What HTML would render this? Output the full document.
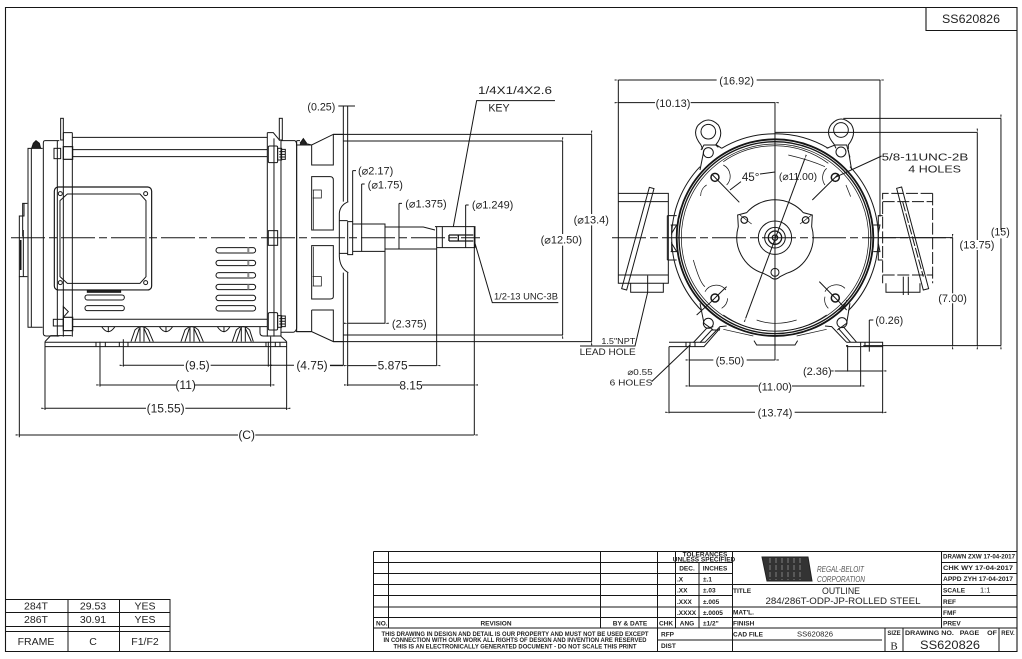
<!DOCTYPE html>
<html><head><meta charset="utf-8"><style>
html,body{margin:0;padding:0;background:#fff;width:1022px;height:659px;overflow:hidden}
svg{display:block}
path,rect,circle,line,polygon,ellipse{fill:none;stroke:#161616;stroke-width:3}
text{font-family:"Liberation Sans",sans-serif;fill:#222;stroke:none;font-size:36px}
.d{marker-start:url(#a);marker-end:url(#a)}
.k{fill:#222}
.t{stroke-width:2.200}
.th{stroke-width:5}
.p text,text.p{font-size:7px;font-weight:bold}
.p path,.p rect{stroke-width:1}
</style></head><body>
<svg width="1022" height="659" viewBox="0 0 1022 659" xmlns="http://www.w3.org/2000/svg">
<defs><marker id="a" markerUnits="userSpaceOnUse" markerWidth="14" markerHeight="8" refX="1" refY="4" orient="auto-start-reverse"><path d="M0 4L12 2V6Z" style="fill:#1c1c1c;stroke:none"/></marker></defs>
<rect x="0" y="0" width="1022" height="659" style="fill:#fff;stroke:none"/>

<!-- frame -->
<path d="M5.500 7.500H1017V651.500H5.500Z" style="stroke-width:1.100"/>
<path d="M926 7.500V30.500H1017" style="stroke-width:1.100"/>
<text x="971" y="23" text-anchor="middle" style="font-size:11.500px" textLength="58" lengthAdjust="spacingAndGlyphs">SS620826</text>

<!-- centerlines -->
<path d="M11 237.700H480" style="stroke-width:1;stroke-dasharray:34 4 8 4"/>
<path d="M612 237.700H952" style="stroke-width:1;stroke-dasharray:34 4 8 4"/>

<!-- LEFT VIEW -->
<g transform="matrix(.3333 0 0 .3333 0 80)">
<path d="M217 172H802M217 209H802M217 230H802M217 718H802M217 740H802"/>
<path d="M217 158V770M802 158V770M822 175V770M190 158V770M172 182V770M843 180V770"/>
<path d="M190 158H217M802 158H820L840 182"/>
<rect x="182" y="115" width="8" height="65"/><rect x="838" y="115" width="9" height="65"/>
<path d="M178 182H135Q130 182 130 190V760Q130 768 138 768H178"/>
<path d="M128 205H84V742H128M94 205V742"/>
<path d="M95 205L100 190L108 182L118 190L122 205" class="k"/>
<path d="M82 370H68V470M82 590H58V408H72V370M70 450V590"/>
<path d="M62 480V570" class="th"/>
<path d="M843 182H885Q890 185 890 195V745Q888 755 880 757H843M888 195H933M888 755H933"/>
<path d="M900 195L910 178L920 195" class="k"/>
<!-- junction box -->
<rect x="163" y="321" width="292" height="309" rx="12" style="stroke-width:3.500"/>
<path d="M180 362L202 342H420L438 362V590L420 610H202L180 590Z"/>
<circle cx="181" cy="341" r="6"/><circle cx="437" cy="341" r="6"/><circle cx="181" cy="608" r="6"/><circle cx="437" cy="608" r="6"/>
<rect x="262" y="630" width="100" height="7" class="k"/>
<!-- louvres -->
<rect x="648" y="503" width="119" height="16" rx="8"/><rect x="648" y="541" width="119" height="16" rx="8"/><rect x="648" y="578" width="119" height="16" rx="8"/><rect x="648" y="613" width="119" height="16" rx="8"/><rect x="648" y="646" width="119" height="16" rx="8"/><rect x="648" y="677" width="119" height="16" rx="8"/>
<rect x="255" y="645" width="118" height="15" rx="7"/><rect x="255" y="677" width="118" height="15" rx="7"/>
<path d="M745 503V519M745 541V557M745 578V594M745 613V629" style="stroke-width:6;stroke:#888"/>
<!-- bolts -->
<rect x="805" y="198" width="28" height="50" rx="4"/><rect x="833" y="205" width="12" height="35"/><path d="M845 208H856V238H845M838 215H856M838 223H856M838 231H856"/>
<rect x="805" y="698" width="28" height="52" rx="4"/><rect x="833" y="707" width="12" height="35"/><path d="M845 708H856V740H845M838 716H856M838 724H856M838 732H856"/>
<rect x="190" y="200" width="28" height="38" style="stroke-width:3.500"/><rect x="162" y="205" width="20" height="31"/>
<rect x="190" y="712" width="28" height="40" style="stroke-width:3.500"/><rect x="160" y="718" width="30" height="20"/><path d="M190 710V680L205 695L190 712"/>
<rect x="805" y="452" width="28" height="44"/>
<!-- feet -->
<path d="M135 785L152 767H215M780 740V758Q780 768 790 768H842L860 785"/>
<path d="M135 787H860M135 800H860M135 785V990M860 785V990M300 785V920M370 778V860M812 770V920M805 785V860"/>
<path d="M288 787V800M316 787V800M358 787V800M384 787V800M798 787V800M826 787V800M840 787V800"/>
<!-- ribs -->
<g class="t"><path d="M393 785L405 750Q425 730 445 750L460 785M405 785L418 745M450 785L432 745M420 785V740M432 785V740"/>
<path d="M543 785L555 750Q575 730 595 750L610 785M555 785L568 745M600 785L582 745M570 785V740M582 785V740"/>
<path d="M697 785L709 750Q729 730 749 750L760 785M709 785L722 745M754 785L736 745M724 785V740M736 785V740"/>
<path d="M305 740Q325 770 345 740M478 740Q498 770 518 740M652 740Q672 770 690 740M325 740V757M498 740V757M672 740V757"/></g>
<!-- dims -->
<path class="d" d="M370 856H552M632 856H805"/>
<path class="d" d="M300 915H528M584 915H812"/>
<path class="d" d="M135 985H438M556 985H860"/>
<path d="M58 590V1072"/>
<path class="d" d="M58 1065H714M766 1065H1422"/>
<path d="M805 856H882M990 856H1029"/>
<text x="592" y="868" text-anchor="middle">(9.5)</text>
<text x="557" y="927" text-anchor="middle">(11)</text>
<text x="497" y="997" text-anchor="middle">(15.55)</text>
<text x="740" y="1077" text-anchor="middle">(C)</text>
<text x="936" y="868" text-anchor="middle">(4.75)</text>
</g>

<!-- SHAFT / FLANGE -->
<g transform="matrix(.3333 0 0 .3333 280 80)">
<path d="M50 182V755M50 182H60M75 190L95 195L160 163H190M95 195V255H160V163M95 290H150Q160 290 160 300V450H95ZM95 497H160V650Q160 657 150 657H95ZM95 690H160V785M95 690V755M50 755H95L160 785H190"/>
<path d="M60 190L70 176L80 190" class="k"/>
<path d="M100 330V448M100 500V618M98 330H124V354H98M98 590H124V618H98" class="t"/>
<path d="M190 78V365M190 578V857M203 78V365M203 578V918M175 78H225"/>
<path d="M160 163H935M190 183H848M190 765H848M160 785H935"/>
<path class="d" d="M848 183V462M848 497V765"/>
<path class="d" d="M935 163V402M935 436V785"/>
<path d="M205 365Q180 375 178 400V530Q180 565 205 578M178 422H203M178 520H203"/>
<path d="M203 425H218V524H203ZM218 432H315V514H218ZM315 441H430L465 450M315 507H470M465 440H585V503H470M487 440V503M470 440V857M583 440V1065"/>
<path d="M507 465H580M507 483H580M507 465V483M535 465V483" style="stroke-width:4"/>
<path d="M218 272V425M218 272H228M245 312V515M245 312H254M357 370V507M357 370H366M557 375V503M557 375H566M315 514V730"/>
<path class="d" d="M203 730H315"/>
<path d="M520 440L590 62H825M585 490L637 668H835"/>
<path d="M190 857H150"/>
<path class="d" d="M203 857H290M386 857H470"/>
<path class="d" d="M203 915H360M426 915H583"/>
<text x="124" y="92" text-anchor="middle" style="font-size:32px">(0.25)</text>
<text x="287" y="284" text-anchor="middle" style="font-size:33px">(⌀2.17)</text>
<text x="316" y="325" text-anchor="middle" style="font-size:33px">(⌀1.75)</text>
<text x="438" y="382" text-anchor="middle" style="font-size:33px">(⌀1.375)</text>
<text x="638" y="386" text-anchor="middle" style="font-size:33px">(⌀1.249)</text>
<text x="934" y="431" text-anchor="middle" style="font-size:33px">(⌀13.4)</text>
<text x="844" y="491" text-anchor="middle" style="font-size:33px">(⌀12.50)</text>
<text x="388" y="742" text-anchor="middle" style="font-size:33px">(2.375)</text>
<text x="338" y="869" text-anchor="middle">5.875</text>
<text x="393" y="928" text-anchor="middle">8.15</text>
<text x="705" y="42" text-anchor="middle" style="font-size:32px" textLength="222" lengthAdjust="spacingAndGlyphs">1/4X1/4X2.6</text>
<text x="657" y="95" text-anchor="middle" style="font-size:32px">KEY</text>
<text x="738" y="658" text-anchor="middle" style="font-size:27px" textLength="192" lengthAdjust="spacingAndGlyphs">1/2-13 UNC-3B</text>
</g>

<!-- END VIEW -->
<g transform="matrix(.3333 0 0 .3333 580 70)">
<!-- rings -->
<path d="M425 235A315 315 0 0 1 745 235M275 503A310 310 0 0 0 365 722M895 503A310 310 0 0 1 805 722M275 503A310 310 0 0 1 360 290M895 503A310 310 0 0 0 810 290"/>
<circle cx="585" cy="503" r="295" style="stroke-width:5.500"/>
<circle cx="585" cy="503" r="288" style="stroke-width:4"/>
<circle cx="585" cy="503" r="281" class="t"/>
<path d="M430 275A272 272 0 0 1 745 280M430 735A272 272 0 0 0 740 735" class="t"/>
<!-- eyes -->
<circle cx="385" cy="185" r="22"/>
<path d="M363 225Q335 190 355 165Q385 135 415 165Q433 195 407 225L415 232M363 225L368 238"/>
<circle cx="783" cy="180" r="22"/>
<path d="M762 222Q733 190 755 162Q783 132 813 162Q832 190 805 225V238M762 222L768 235"/>
<circle cx="385" cy="248" r="15"/><circle cx="783" cy="246" r="15"/><circle cx="385" cy="760" r="15"/><circle cx="786" cy="758" r="15"/>
<path d="M363 240L372 225H410L425 235M360 300L372 240M805 240L815 300M740 235L765 225H800L810 262"/>
<path d="M360 700L372 760L400 780M810 700L800 760L772 780"/>
<!-- tapped holes -->
<circle cx="405" cy="322" r="12" style="stroke-width:4.500"/><circle cx="766" cy="322" r="12" style="stroke-width:4.500"/><circle cx="405" cy="684" r="12" style="stroke-width:4.500"/><circle cx="766" cy="684" r="12" style="stroke-width:4.500"/>
<path d="M395 312L478 397M776 312L697 390M756 332L776 312M395 694L415 674M350 735L395 694M415 674L440 650M776 694L756 674M756 674L718 635M776 694L800 720"/>
<path d="M430 285A38 38 0 0 1 440 345M380 345A38 38 0 0 0 362 378M798 345L812 380M740 295A38 38 0 0 0 735 345M375 665A38 38 0 0 1 438 660M443 685A38 38 0 0 1 425 715M735 665A38 38 0 0 1 795 655M800 690A38 38 0 0 1 775 720M735 680A38 38 0 0 0 745 715" class="t"/>
<!-- center plate -->
<path d="M500 428A113 113 0 0 1 670 428L697 435L695 470A113 113 0 0 1 620 610L600 620Q585 635 570 620L550 610A113 113 0 0 1 475 470L473 435Z"/>
<circle cx="493" cy="450" r="10" style="stroke-width:3.500"/><circle cx="677" cy="450" r="10" style="stroke-width:3.500"/><circle cx="585" cy="607" r="12"/>
<path d="M480 435L515 462M695 435L660 462" class="t"/>
<circle cx="585" cy="503" r="50"/><circle cx="585" cy="503" r="31"/><circle cx="585" cy="503" r="20" style="stroke-width:4"/><circle cx="585" cy="503" r="8" style="stroke-width:4"/>
<!-- axes -->
<path d="M585 98V870"/>
<path d="M898 503H1118"/>
<!-- dia leader -->
<path class="d" d="M675 265L497 745"/>
<path d="M625 255Q690 270 735 290M340 570Q360 640 375 650M530 750Q585 770 650 750" class="t"/>
<path d="M450 360Q470 345 483 335M540 312L585 306"/>
<!-- left box -->
<path d="M115 370H265V640H115ZM115 395H265M115 615H265M152 640V667H250V640M203 617V667L165 828H0"/>
<path d="M208 352L222 356L140 660L125 656Z"/>
<path d="M262 437H290M262 570H290M262 437V570M272 465H290L275 490V465M272 545H290L275 520V545"/>
<!-- right box -->
<path d="M1058 370H908V640M908 395H1058M908 615H1058M1058 370V640" style="stroke-dasharray:36 8"/>
<path d="M918 640V667H1020V640M970 620V675M985 620V675"/>
<path d="M950 355L965 351L1046 656L1030 660Z"/>
<path d="M968 395L1030 620" style="stroke-dasharray:30 6"/>
<path d="M908 437H895V570H908M880 465H900L895 490M880 545H900L895 520"/>
<!-- feet -->
<path d="M267 817H375L420 770L440 768M267 830H372L420 775M330 817V830M318 817V830M345 817V830"/>
<path d="M340 818L380 775L400 770M360 818L395 780L420 780"/>
<path d="M800 817L755 770L735 768M800 830H908V817H800M830 817L790 770M812 817L775 775M842 817V830M855 817V830M800 830V825"/>
<path d="M522 812L530 825H645L653 812"/>
<path d="M430 778L520 798M740 778L650 798" class="t"/>
<!-- dimension lines -->
<path d="M115 30V370M900 30V440M267 830V1030M908 830V1030M328 830V950M842 830V950M803 825V905"/>
<path class="d" d="M115 30H410M530 30H900"/>
<path class="d" d="M115 98H225M332 98H585"/>
<path class="d" d="M328 870H400M500 870H585"/>
<path class="d" d="M328 948H535M636 948H842"/>
<path class="d" d="M267 1027H525M644 1027H908"/>
<path class="d" d="M765 903H908"/>
<path d="M790 145H1263M585 187H1192M850 827H1263"/>
<path class="d" d="M1263 145V480M1263 505V827"/>
<path class="d" d="M1192 187V510M1192 540V827"/>
<path class="d" d="M1118 503V670M1118 700V827"/>
<path d="M868 750V845M868 750H880"/>
<path d="M330 825L215 935M766 322L905 258"/>
<text x="470" y="43" text-anchor="middle" style="font-size:33px">(16.92)</text>
<text x="279" y="111" text-anchor="middle" style="font-size:33px">(10.13)</text>
<text x="512" y="333" text-anchor="middle" style="font-size:35px">45°</text>
<text x="654" y="330" text-anchor="middle" style="font-size:31px">(⌀11.00)</text>
<text x="1035" y="272" text-anchor="middle" style="font-size:31px" textLength="260" lengthAdjust="spacingAndGlyphs">5/8-11UNC-2B</text>
<text x="1064" y="307" text-anchor="middle" style="font-size:31px" textLength="158" lengthAdjust="spacingAndGlyphs">4 HOLES</text>
<text x="1261" y="497" text-anchor="middle" style="font-size:32px">(15)</text>
<text x="1191" y="536" text-anchor="middle" style="font-size:33px">(13.75)</text>
<text x="1118" y="696" text-anchor="middle" style="font-size:33px">(7.00)</text>
<text x="928" y="762" text-anchor="middle" style="font-size:32px">(0.26)</text>
<text x="712" y="915" text-anchor="middle" style="font-size:33px">(2.36)</text>
<text x="450" y="883" text-anchor="middle" style="font-size:33px">(5.50)</text>
<text x="585" y="961" text-anchor="middle" style="font-size:33px">(11.00)</text>
<text x="585" y="1040" text-anchor="middle" style="font-size:33px">(13.74)</text>
<text x="115" y="822" text-anchor="middle" style="font-size:26px" textLength="102" lengthAdjust="spacingAndGlyphs">1.5"NPT</text>
<text x="83" y="855" text-anchor="middle" style="font-size:27px" textLength="168" lengthAdjust="spacingAndGlyphs">LEAD HOLE</text>
<text x="180" y="915" text-anchor="middle" style="font-size:26px" textLength="76" lengthAdjust="spacingAndGlyphs">⌀0.55</text>
<text x="153" y="946" text-anchor="middle" style="font-size:26px" textLength="128" lengthAdjust="spacingAndGlyphs">6 HOLES</text>
</g>

<!-- frame table -->
<path d="M5 599.500H170V651.500M5 612.500H170M5 626.500H170M5 631.500H170M68 599.500V651.500M119.500 599.500V651.500" style="stroke-width:1"/>
<text x="36" y="609.500" text-anchor="middle" style="font-size:10.500px">284T</text><text x="93" y="609.500" text-anchor="middle" style="font-size:10.500px">29.53</text><text x="145" y="609.500" text-anchor="middle" style="font-size:10.500px">YES</text>
<text x="36" y="623" text-anchor="middle" style="font-size:10.500px">286T</text><text x="93" y="623" text-anchor="middle" style="font-size:10.500px">30.91</text><text x="145" y="623" text-anchor="middle" style="font-size:10.500px">YES</text>
<text x="36" y="645" text-anchor="middle" style="font-size:10.500px">FRAME</text><text x="93" y="645" text-anchor="middle" style="font-size:10.500px">C</text><text x="145" y="645" text-anchor="middle" style="font-size:10.500px">F1/F2</text>

<!-- title block -->
<g class="p">
<path d="M373.500 551.500H1017M373.500 562.500H657M373.500 573.500H657M373.500 584.500H657M373.500 595.500H657M373.500 607H657M373.500 617.500H732M373.500 628H1017M373.500 551.500V651.500M388.500 551.500V628M600.500 551.500V628M657.500 551.500V651.500"/>
<path d="M657 562.500H732M657 573.500H732M657 584.500H941M657 595.500H732M657 607H1017M675.500 551.500V628M699 562.500V628M732.500 551.500V651.500M941.500 551.500V628M657 640H882M941 562.500H1017M941 573.500H1017M941 584.500H1017M941 595.500H1017M941 617.500H1017M732 617.500H941M885 628V651.500M903 628V651.500M999 628V651.500"/>
<text x="376" y="625.500" style="font-size:6.500px">NO.</text>
<text x="496" y="625.500" text-anchor="middle" style="font-size:6.500px">REVISION</text>
<text x="630" y="625.500" text-anchor="middle" style="font-size:6.500px">BY &amp; DATE</text>
<text x="666" y="625.500" text-anchor="middle" style="font-size:6.500px">CHK</text>
<text x="687" y="625.500" text-anchor="middle" style="font-size:6.500px">ANG</text>
<text x="515" y="636" text-anchor="middle" style="font-size:6.300px" textLength="267" lengthAdjust="spacingAndGlyphs">THIS DRAWING IN DESIGN AND DETAIL IS OUR PROPERTY AND MUST NOT BE USED EXCEPT</text>
<text x="515" y="642" text-anchor="middle" style="font-size:6.300px" textLength="263" lengthAdjust="spacingAndGlyphs">IN CONNECTION WITH OUR WORK ALL RIGHTS OF DESIGN AND INVENTION ARE RESERVED</text>
<text x="515" y="648.500" text-anchor="middle" style="font-size:6.300px" textLength="243" lengthAdjust="spacingAndGlyphs">THIS IS AN ELECTRONICALLY GENERATED DOCUMENT - DO NOT SCALE THIS PRINT</text>
<text x="661" y="636.500" style="font-size:6.500px">RFP</text><text x="661" y="648" style="font-size:6.500px">DIST</text>
<text x="705" y="556.500" text-anchor="middle" style="font-size:6.500px">TOLERANCES</text>
<text x="704" y="561.500" text-anchor="middle" style="font-size:6.500px">UNLESS SPECIFIED</text>
<text x="687" y="570.500" text-anchor="middle" style="font-size:6.500px">DEC.</text><text x="715" y="570.500" text-anchor="middle" style="font-size:6.500px">INCHES</text>
<text x="677" y="581.500" style="font-size:6.500px">.X</text><text x="703" y="581.500" style="font-size:6.500px">±.1</text>
<text x="677" y="592.500" style="font-size:6.500px">.XX</text><text x="703" y="592.500" style="font-size:6.500px">±.03</text>
<text x="677" y="604" style="font-size:6.500px">.XXX</text><text x="703" y="604" style="font-size:6.500px">±.005</text>
<text x="677" y="615" style="font-size:6.500px">.XXXX</text><text x="703" y="615" style="font-size:6.500px">±.0005</text>
<text x="703" y="625.500" style="font-size:6.500px">±1/2"</text>
<polygon points="762,557 808,557 812,581 767,581" style="fill:#333;stroke:#222;stroke-width:1"/>
<path d="M770 558V580M776 558V580M782 558V580M788 558V580M794 558V580M800 558V580" style="stroke:#666;stroke-width:1.500;stroke-dasharray:5 2"/>
<text x="817" y="572" style="font-size:8.500px;font-weight:normal;font-style:italic;fill:#555" textLength="47" lengthAdjust="spacingAndGlyphs">REGAL-BELOIT</text>
<text x="817" y="582" style="font-size:8.500px;font-weight:normal;font-style:italic;fill:#555" textLength="48" lengthAdjust="spacingAndGlyphs">CORPORATION</text>
<text x="733" y="593" style="font-size:6.500px">TITLE</text>
<text x="841" y="594" text-anchor="middle" style="font-size:9px;font-weight:normal" textLength="38" lengthAdjust="spacingAndGlyphs">OUTLINE</text>
<text x="843" y="604" text-anchor="middle" style="font-size:9px;font-weight:normal" textLength="155" lengthAdjust="spacingAndGlyphs">284/286T-ODP-JP-ROLLED STEEL</text>
<text x="733" y="614.500" style="font-size:6.500px">MAT'L.</text>
<text x="733" y="625.500" style="font-size:6.500px">FINISH</text>
<text x="733" y="636.500" style="font-size:6.500px">CAD FILE</text>
<text x="815" y="636.500" text-anchor="middle" style="font-size:7.500px;font-weight:normal" textLength="36" lengthAdjust="spacingAndGlyphs">SS620826</text>
<text x="943" y="558.500" style="font-size:6.500px" textLength="72" lengthAdjust="spacingAndGlyphs">DRAWN ZXW 17-04-2017</text>
<text x="943" y="570" style="font-size:6.500px" textLength="70" lengthAdjust="spacingAndGlyphs">CHK   WY 17-04-2017</text>
<text x="943" y="581" style="font-size:6.500px" textLength="70" lengthAdjust="spacingAndGlyphs">APPD  ZYH 17-04-2017</text>
<text x="943" y="592.500" style="font-size:6.500px">SCALE</text><text x="980" y="592.500" style="font-size:7.500px;font-weight:normal">1:1</text>
<text x="943" y="604" style="font-size:6.500px">REF</text>
<text x="943" y="615" style="font-size:6.500px">FMF</text>
<text x="943" y="625.500" style="font-size:6.500px">PREV</text>
<text x="894" y="635" text-anchor="middle" style="font-size:6px">SIZE</text>
<text x="894" y="649.500" text-anchor="middle" style="font-size:11px;font-weight:normal;font-family:'Liberation Serif',serif">B</text>
<text x="905" y="635" style="font-size:6px" xml:space="preserve" textLength="92" lengthAdjust="spacingAndGlyphs">DRAWING NO.   PAGE    OF</text>
<text x="1008" y="635" text-anchor="middle" style="font-size:6px">REV.</text>
<text x="950" y="649" text-anchor="middle" style="font-size:11.500px;font-weight:normal" textLength="60" lengthAdjust="spacingAndGlyphs">SS620826</text>
</g>
</svg>
</body></html>
